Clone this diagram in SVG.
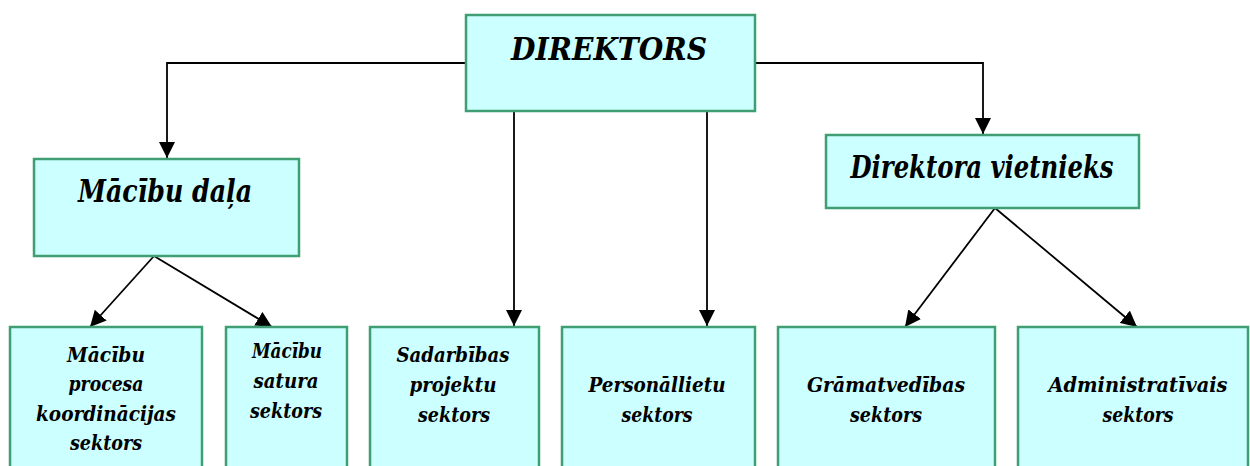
<svg xmlns="http://www.w3.org/2000/svg" width="1250" height="466" viewBox="0 0 1250 466">
<defs>
<marker id="arr" markerUnits="userSpaceOnUse" markerWidth="16" markerHeight="16" viewBox="0 0 16 16" refX="16" refY="8" orient="auto">
<path d="M0,0 L16,8 L0,16 Z" fill="#000"/>
</marker>
<style>
.box{fill:#CCFFFF;stroke:#3F9F73;stroke-width:2.5}
.t{font-family:'DejaVu Serif Condensed','DejaVu Serif',serif;font-stretch:condensed;font-style:italic;font-weight:bold;fill:#000;text-anchor:middle}
.c{fill:none;stroke:#000;stroke-width:1.8}
</style>
</defs>
<g id="connectors">
<polyline class="c" points="466,63 167,63 167,158" marker-end="url(#arr)"/>
<polyline class="c" points="755,63 983,63 983,134" marker-end="url(#arr)"/>
<line class="c" x1="514" y1="111" x2="514" y2="326" marker-end="url(#arr)"/>
<line class="c" x1="707" y1="111" x2="707" y2="326" marker-end="url(#arr)"/>
<line class="c" x1="154" y1="256" x2="90" y2="327" marker-end="url(#arr)"/>
<line class="c" x1="154" y1="256" x2="272" y2="327" marker-end="url(#arr)"/>
<line class="c" x1="995" y1="208" x2="905" y2="327" marker-end="url(#arr)"/>
<line class="c" x1="995" y1="208" x2="1137" y2="327" marker-end="url(#arr)"/>
</g>
<g id="direktors">
<rect class="box" x="466" y="15" width="289" height="96"/>
<text class="t" x="609" y="60" font-size="32" textLength="196" lengthAdjust="spacingAndGlyphs">DIREKTORS</text>
</g>
<g id="macibu-dala">
<rect class="box" x="34" y="159" width="265" height="97"/>
<text class="t" x="165" y="202" font-size="31" textLength="174" lengthAdjust="spacingAndGlyphs">Mācību daļa</text>
</g>
<g id="direktora-vietnieks">
<rect class="box" x="826" y="135" width="313" height="73"/>
<text class="t" x="982" y="178" font-size="31" textLength="263" lengthAdjust="spacingAndGlyphs">Direktora vietnieks</text>
</g>
<g id="procesa">
<rect class="box" x="10" y="327" width="192" height="145"/>
<text class="t" font-size="20.5"><tspan x="106" y="362" textLength="78" lengthAdjust="spacingAndGlyphs">Mācību</tspan></text>
<text class="t" font-size="20.5"><tspan x="106" y="391" textLength="75" lengthAdjust="spacingAndGlyphs">procesa</tspan></text>
<text class="t" font-size="20.5"><tspan x="106" y="421" textLength="140" lengthAdjust="spacingAndGlyphs">koordinācijas</tspan></text>
<text class="t" font-size="20.5"><tspan x="106" y="450" textLength="72" lengthAdjust="spacingAndGlyphs">sektors</tspan></text>
</g>
<g id="satura">
<rect class="box" x="226" y="327" width="121" height="145"/>
<text class="t" font-size="19.5"><tspan x="287" y="358" textLength="70" lengthAdjust="spacingAndGlyphs">Mācību</tspan></text>
<text class="t" font-size="19.5"><tspan x="286" y="388" textLength="65" lengthAdjust="spacingAndGlyphs">satura</tspan></text>
<text class="t" font-size="19.5"><tspan x="286" y="418" textLength="72" lengthAdjust="spacingAndGlyphs">sektors</tspan></text>
</g>
<g id="sadarbibas">
<rect class="box" x="370" y="327" width="169" height="145"/>
<text class="t" font-size="20.5"><tspan x="453" y="362" textLength="113" lengthAdjust="spacingAndGlyphs">Sadarbības</tspan></text>
<text class="t" font-size="20.5"><tspan x="453" y="392" textLength="87" lengthAdjust="spacingAndGlyphs">projektu</tspan></text>
<text class="t" font-size="20.5"><tspan x="454" y="422" textLength="72" lengthAdjust="spacingAndGlyphs">sektors</tspan></text>
</g>
<g id="personallietu">
<rect class="box" x="562" y="327" width="193" height="145"/>
<text class="t" font-size="20.5"><tspan x="657" y="392" textLength="137" lengthAdjust="spacingAndGlyphs">Personāllietu</tspan></text>
<text class="t" font-size="20.5"><tspan x="657" y="422" textLength="71" lengthAdjust="spacingAndGlyphs">sektors</tspan></text>
</g>
<g id="gramatvedibas">
<rect class="box" x="778" y="327" width="217" height="145"/>
<text class="t" font-size="20.5"><tspan x="886" y="392" textLength="158" lengthAdjust="spacingAndGlyphs">Grāmatvedības</tspan></text>
<text class="t" font-size="20.5"><tspan x="886" y="422" textLength="72" lengthAdjust="spacingAndGlyphs">sektors</tspan></text>
</g>
<g id="administrativais">
<rect class="box" x="1018" y="327" width="230" height="145"/>
<text class="t" font-size="20.5"><tspan x="1138" y="392" textLength="179" lengthAdjust="spacingAndGlyphs">Administratīvais</tspan></text>
<text class="t" font-size="20.5"><tspan x="1138" y="422" textLength="71" lengthAdjust="spacingAndGlyphs">sektors</tspan></text>
</g>
</svg>
